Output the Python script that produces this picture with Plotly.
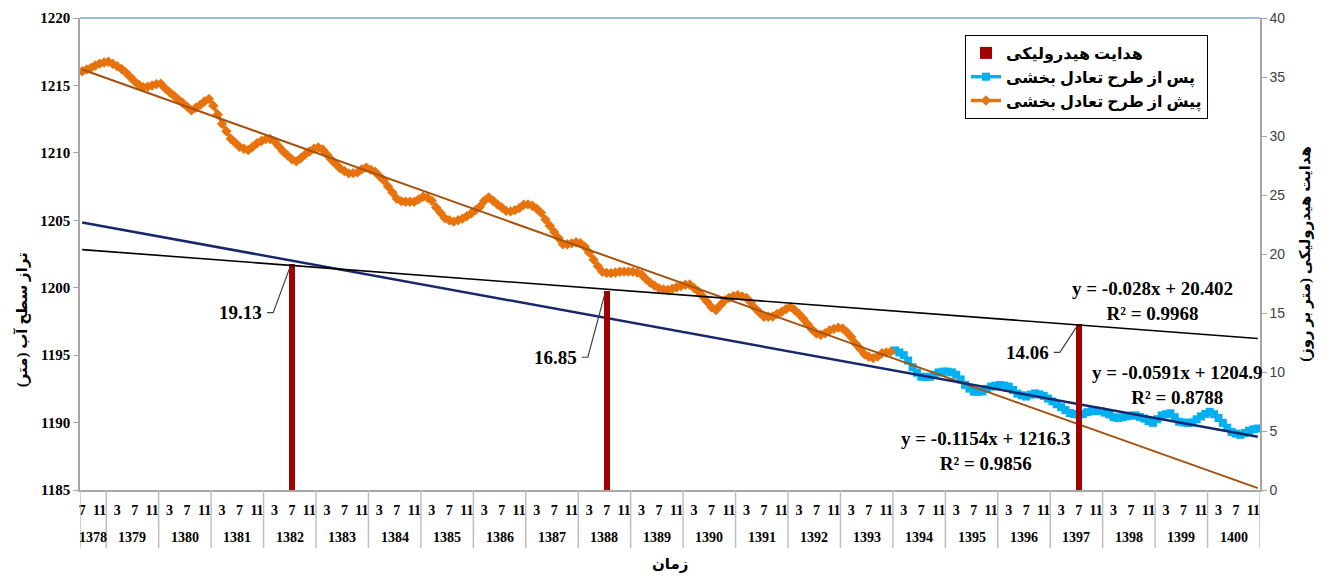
import plotly.graph_objects as go

# ---------------- data ----------------
years = list(range(1378, 1401))
first_year_months = [7, 8, 9, 10, 11, 12]
tick_months = [3, 7, 11]

# water level before the balancing plan (monthly, from 1378/7 to 1393/12)
before_levels = [
    1216.05, 1216.18, 1216.30, 1216.48, 1216.62, 1216.70, 1216.76, 1216.60, 1216.43, 1216.22,
    1215.95, 1215.63, 1215.30, 1215.03, 1214.87, 1214.90, 1215.00, 1215.10, 1215.12, 1214.78,
    1214.49, 1214.23, 1213.95, 1213.70, 1213.43, 1213.15, 1213.34, 1213.56, 1213.82, 1214.00,
    1213.50, 1212.85, 1212.15, 1211.60, 1211.05, 1210.75, 1210.45, 1210.30, 1210.21, 1210.45,
    1210.71, 1210.88, 1211.02, 1211.03, 1210.85, 1210.48, 1210.10, 1209.80, 1209.52, 1209.37,
    1209.60, 1209.88, 1210.10, 1210.30, 1210.40, 1210.25, 1209.88, 1209.50, 1209.18, 1208.86,
    1208.65, 1208.48, 1208.50, 1208.55, 1208.78, 1208.90, 1208.75, 1208.60, 1208.28, 1207.96,
    1207.50, 1207.06, 1206.60, 1206.42, 1206.38, 1206.38, 1206.38, 1206.55, 1206.74, 1206.68,
    1206.45, 1205.95, 1205.55, 1205.16, 1205.00, 1204.90, 1205.00, 1205.12, 1205.30, 1205.50,
    1205.75, 1206.00, 1206.45, 1206.70, 1206.45, 1206.18, 1205.95, 1205.70, 1205.66, 1205.75,
    1205.90, 1206.15, 1206.18, 1206.08, 1205.86, 1205.55, 1205.05, 1204.60, 1204.14, 1203.68,
    1203.22, 1203.22, 1203.29, 1203.37, 1203.30, 1203.04, 1202.60, 1202.08, 1201.60, 1201.18,
    1201.10, 1201.08, 1201.13, 1201.18, 1201.19, 1201.19, 1201.18, 1201.12, 1200.98, 1200.64,
    1200.36, 1200.15, 1199.95, 1199.88, 1199.83, 1199.92, 1200.03, 1200.13, 1200.22, 1200.24,
    1199.98, 1199.72, 1199.35, 1198.95, 1198.55, 1198.35, 1198.70, 1199.05, 1199.25, 1199.38,
    1199.45, 1199.36, 1199.24, 1198.90, 1198.47, 1198.15, 1197.85, 1197.85, 1197.87, 1198.05,
    1198.20, 1198.40, 1198.58, 1198.35, 1198.06, 1197.70, 1197.30, 1196.90, 1196.60, 1196.51,
    1196.62, 1196.83, 1196.95, 1197.04, 1196.98, 1196.70, 1196.33, 1195.85, 1195.47, 1195.07,
    1194.88, 1194.78, 1194.90, 1195.14, 1195.20, 1195.26,
]

# water level after the balancing plan (monthly, from 1394/1 to 1400/12)
after_levels = [
    1195.35, 1195.20, 1195.00, 1194.60, 1194.10, 1193.70, 1193.40, 1193.38, 1193.40, 1193.55,
    1193.72, 1193.78, 1193.78, 1193.72, 1193.55, 1193.20, 1192.80, 1192.52, 1192.29, 1192.28,
    1192.31, 1192.50, 1192.67, 1192.74, 1192.79, 1192.74, 1192.66, 1192.42, 1192.15, 1192.02,
    1191.93, 1192.07, 1192.16, 1192.09, 1191.98, 1191.78, 1191.57, 1191.36, 1191.14, 1190.92,
    1190.71, 1190.64, 1190.58, 1190.64, 1190.77, 1190.84, 1190.87, 1190.85, 1190.74, 1190.60,
    1190.40, 1190.33, 1190.40, 1190.46, 1190.52, 1190.53, 1190.42, 1190.30, 1190.10, 1189.98,
    1190.25, 1190.53, 1190.62, 1190.69, 1190.40, 1190.06, 1190.01, 1189.97, 1190.02, 1190.24,
    1190.46, 1190.64, 1190.80, 1190.62, 1190.34, 1189.98, 1189.62, 1189.30, 1189.18, 1189.09,
    1189.23, 1189.40, 1189.50, 1189.56,
]
after_start = (1394, 1)

# hydraulic conductivity (m/day)
cond_dates = [(1382, 7), (1388, 7), (1397, 7)]
cond_values = [19.13, 16.85, 14.06]

# trendline equations (as printed on the chart): slope, intercept, R2
trend_before = (-0.1154, 1216.3, 0.9856)
trend_after = (-0.0591, 1204.9, 0.8788)
trend_cond = (-0.028, 20.402, 0.9968)

legend_names = ["هدایت هیدرولیکی", "پس از طرح تعادل بخشی", "پیش از طرح تعادل بخشی"]
left_title = "تراز سطح آب (متر)"
right_title = "هدایت هیدرولیکی (متر بر روز)"
x_title = "زمان"

# ---------------- categories ----------------
cats = [(1378, m) for m in first_year_months]
for y in years[1:]:
    cats += [(y, m) for m in range(1, 13)]
idx = {c: i + 1 for i, c in enumerate(cats)}
N = len(cats)

x_before = list(range(1, len(before_levels) + 1))
s = idx[after_start]
x_after = list(range(s, s + len(after_levels)))
x_cond = [idx[d] for d in cond_dates]

tickvals = [idx[c] for c in cats if c[1] in tick_months]
ticktext = [str(c[1]) for c in cats if c[1] in tick_months]

SERIF = "Liberation Serif, Times New Roman, DejaVu Serif"
AR = "Liberation Serif, DejaVu Sans, Noto Sans"


def bfont(size, family=SERIF, color="#000000"):
    return dict(family=family, size=size, color=color, weight="bold")


fig = go.Figure()

# bars (secondary axis)
fig.add_trace(go.Bar(
    x=x_cond, y=cond_values, yaxis="y2", width=1.4,
    marker=dict(color="#A00000", line=dict(width=0)),
    name=legend_names[0], showlegend=True,
))

# after series
fig.add_trace(go.Scatter(
    x=x_after, y=after_levels, mode="lines+markers", name=legend_names[1],
    line=dict(color="#00B0F0", width=3.5),
    marker=dict(symbol="square", size=8, color="#00B0F0"),
))
# before series
fig.add_trace(go.Scatter(
    x=x_before, y=before_levels, mode="lines+markers", name=legend_names[2],
    line=dict(color="#E8720C", width=3.5),
    marker=dict(symbol="diamond", size=8, color="#E8720C"),
))

# trendlines
xt = [1, N]
fig.add_trace(go.Scatter(
    x=xt, y=[trend_before[0] * v + trend_before[1] for v in xt], mode="lines",
    line=dict(color="#A5520E", width=2), showlegend=False, hoverinfo="skip",
))
fig.add_trace(go.Scatter(
    x=xt, y=[trend_after[0] * v + trend_after[1] for v in xt], mode="lines",
    line=dict(color="#16286B", width=2.5), showlegend=False, hoverinfo="skip",
))
fig.add_trace(go.Scatter(
    x=xt, y=[trend_cond[0] * v + trend_cond[1] for v in xt], mode="lines", yaxis="y2",
    line=dict(color="#000000", width=1.6), showlegend=False, hoverinfo="skip",
))

shapes = []
annotations = []

# year separators and labels
year_bounds = [0.5]
for y in years:
    n = sum(1 for c in cats if c[0] == y)
    year_bounds.append(year_bounds[-1] + n)
for b in year_bounds:
    shapes.append(dict(type="line", xref="x", yref="paper", x0=b, x1=b, y0=0, y1=-0.123,
                       line=dict(color="#BFBFBF", width=1.5)))
for i, y in enumerate(years):
    annotations.append(dict(x=(year_bounds[i] + year_bounds[i + 1]) / 2, y=-0.1, xref="x", yref="paper",
                            text=str(y), showarrow=False, xanchor="center", yanchor="middle",
                            font=bfont(14)))

# top border
shapes.append(dict(type="line", xref="paper", yref="paper", x0=0, x1=1, y0=1, y1=1,
                   line=dict(color="#4472C4", width=1)))

# bar value labels with leader lines
label_drop = [4.1, 5.6, 2.4]
for xc, v, d in zip(x_cond, cond_values, label_drop):
    yl = v - d
    shapes.append(dict(type="path", xref="x", yref="y2",
                       path=f"M {xc-5.7},{yl} L {xc-4.3},{yl} L {xc-0.4},{v-0.2}",
                       line=dict(color="#404040", width=1.2)))
    annotations.append(dict(x=xc - 6.3, y=yl, xref="x", yref="y2", text=f"{v:.2f}",
                            showarrow=False, xanchor="right", yanchor="middle",
                            font=bfont(19)))


# trend equations
def eq(t):
    return f"y = {t[0]}x + {t[1]}<br>R² = {t[2]:.4f}"


annotations.append(dict(x=246.0, y=1199.0, xref="x", yref="y", showarrow=False,
                        text=eq(trend_cond), align="center", font=bfont(19)))
annotations.append(dict(x=251.5, y=1192.8, xref="x", yref="y", showarrow=False,
                        text=eq(trend_after), align="center", font=bfont(19)))
annotations.append(dict(x=207.6, y=1187.9, xref="x", yref="y", showarrow=False,
                        text=eq(trend_before), align="center", font=bfont(19)))

# axis titles
annotations.append(dict(x=-0.049, y=0.36, xref="paper", yref="paper", text=left_title,
                        textangle=-90, showarrow=False, xanchor="center", yanchor="middle",
                        font=bfont(15, AR)))
annotations.append(dict(x=1.038, y=0.50, xref="paper", yref="paper", text=right_title,
                        textangle=-90, showarrow=False, xanchor="center", yanchor="middle",
                        font=bfont(15, AR)))
annotations.append(dict(x=0.5, y=-0.158, xref="paper", yref="paper", text=x_title,
                        showarrow=False, xanchor="center", yanchor="middle", font=bfont(15, AR)))

# the page body adds an 8px margin; the figure is sized so the plot area lands
# at the same place as in the reference and nothing overflows the window
fig.update_layout(
    width=1311, height=565, autosize=False,
    margin=dict(l=72, r=59, t=10, b=83, autoexpand=False),
    plot_bgcolor="white", paper_bgcolor="white",
    bargap=0,
    xaxis=dict(range=[0.5, N + 0.5], tickmode="array", tickvals=tickvals, ticktext=ticktext,
               showgrid=False, zeroline=False, showline=True, linecolor="#A6A6A6", linewidth=1.5,
               ticks="", ticklabelstandoff=6, automargin=False,
               tickfont=bfont(14)),
    yaxis=dict(range=[1185, 1220], dtick=5, showgrid=False, zeroline=False, automargin=False,
               showline=True, linecolor="#A6A6A6", linewidth=1.5, ticks="outside", ticklen=5,
               tickcolor="#A6A6A6", tickfont=bfont(15)),
    yaxis2=dict(range=[0, 40], dtick=5, overlaying="y", side="right", showgrid=False,
                zeroline=False, showline=True, linecolor="#A6A6A6", linewidth=1.5, automargin=False,
                ticks="outside", ticklen=5, tickcolor="#A6A6A6",
                tickfont=dict(family="Liberation Sans, Arial", size=14, color="#404040")),
    legend=dict(x=0.75, y=0.964, xanchor="left", yanchor="top", bgcolor="white",
                bordercolor="#000000", borderwidth=1, traceorder="normal",
                font=bfont(16, AR), itemwidth=30, tracegroupgap=0),
    shapes=shapes, annotations=annotations,
    showlegend=True,
)

fig.write_html("out.html")
